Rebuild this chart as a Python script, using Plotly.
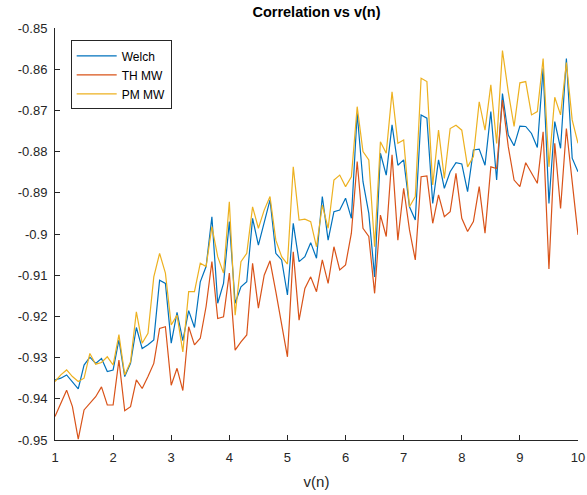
import plotly.graph_objects as go

v_n = [round(1 + 0.1 * i, 1) for i in range(91)]

welch = [-0.9354, -0.9350, -0.9342, -0.9358, -0.9376, -0.9318, -0.9299, -0.9314, -0.9302, -0.9334,
         -0.9330, -0.9257, -0.9346, -0.9314, -0.9227, -0.9278, -0.9269, -0.9257, -0.9112, -0.9120,
         -0.9265, -0.9190, -0.9259, -0.9186, -0.9227, -0.9116, -0.9079, -0.8958, -0.9168, -0.9120,
         -0.8970, -0.9168, -0.9128, -0.9116, -0.8962, -0.9027, -0.8970, -0.8917, -0.9047, -0.9063,
         -0.9148, -0.8974, -0.9067, -0.9055, -0.9021, -0.9059, -0.8909, -0.9015, -0.8946, -0.8942,
         -0.8913, -0.8962, -0.8707, -0.8873, -0.8950, -0.9104, -0.8804, -0.8857, -0.8735, -0.8833,
         -0.8820, -0.8934, -0.8966, -0.8711, -0.8719, -0.8926, -0.8820, -0.8889, -0.8849, -0.8827,
         -0.8830, -0.8897, -0.8796, -0.8794, -0.8833, -0.8703, -0.8869, -0.8659, -0.8760, -0.8786,
         -0.8738, -0.8739, -0.8756, -0.8790, -0.8598, -0.8926, -0.8727, -0.8792, -0.8574, -0.8816,
         -0.8849]

th_mw = [-0.9443, -0.9411, -0.9379, -0.9419, -0.9498, -0.9427, -0.9411, -0.9395, -0.9371, -0.9415,
         -0.9415, -0.9306, -0.9429, -0.9419, -0.9354, -0.9375, -0.9346, -0.9314, -0.9229, -0.9225,
         -0.9367, -0.9326, -0.9380, -0.9225, -0.9269, -0.9253, -0.9176, -0.9067, -0.9205, -0.9201,
         -0.9095, -0.9282, -0.9262, -0.9245, -0.9071, -0.9180, -0.9100, -0.9065, -0.9140, -0.9220,
         -0.9298, -0.9043, -0.9209, -0.9132, -0.9104, -0.9140, -0.9063, -0.9120, -0.9031, -0.9087,
         -0.9075, -0.8998, -0.8824, -0.8986, -0.9006, -0.9144, -0.8954, -0.9006, -0.8808, -0.9015,
         -0.8889, -0.8990, -0.9063, -0.8861, -0.8859, -0.8974, -0.8905, -0.8958, -0.8946, -0.8853,
         -0.8962, -0.8994, -0.8970, -0.8885, -0.8998, -0.8837, -0.8841, -0.8675, -0.8788, -0.8869,
         -0.8885, -0.8827, -0.8853, -0.8877, -0.8752, -0.9085, -0.8780, -0.8938, -0.8744, -0.8869,
         -0.9002]

pm_mw = [-0.9358, -0.9342, -0.9330, -0.9346, -0.9358, -0.9350, -0.9290, -0.9316, -0.9312, -0.9298,
         -0.9318, -0.9244, -0.9342, -0.9310, -0.9189, -0.9265, -0.9241, -0.9104, -0.9047, -0.9095,
         -0.9221, -0.9197, -0.9286, -0.9140, -0.9140, -0.9071, -0.9079, -0.8982, -0.9055, -0.9095,
         -0.8922, -0.9197, -0.9067, -0.9047, -0.8934, -0.8986, -0.8942, -0.8909, -0.9015, -0.9055,
         -0.9073, -0.8837, -0.8966, -0.8964, -0.8970, -0.9031, -0.8930, -0.8986, -0.8869, -0.8857,
         -0.8885, -0.8861, -0.8691, -0.8800, -0.8820, -0.9031, -0.8776, -0.8804, -0.8655, -0.8780,
         -0.8772, -0.8934, -0.8909, -0.8622, -0.8630, -0.8881, -0.8748, -0.8865, -0.8744, -0.8736,
         -0.8748, -0.8837, -0.8812, -0.8679, -0.8748, -0.8638, -0.8780, -0.8555, -0.8655, -0.8739,
         -0.8633, -0.8630, -0.8711, -0.8703, -0.8574, -0.8837, -0.8668, -0.8711, -0.8584, -0.8723,
         -0.8780]

y_ticks = [-0.95, -0.94, -0.93, -0.92, -0.91, -0.90, -0.89, -0.88, -0.87, -0.86, -0.85]
y_tick_text = ["-0.95", "-0.94", "-0.93", "-0.92", "-0.91", "-0.9", "-0.89", "-0.88", "-0.87", "-0.86", "-0.85"]
x_ticks = [1, 2, 3, 4, 5, 6, 7, 8, 9, 10]

font = "Liberation Sans, Arial, sans-serif"

fig = go.Figure()
fig.add_trace(go.Scatter(x=v_n, y=welch, mode="lines", name="Welch",
                         line=dict(color="#0072BD", width=1.2)))
fig.add_trace(go.Scatter(x=v_n, y=th_mw, mode="lines", name="TH MW",
                         line=dict(color="#D95319", width=1.2)))
fig.add_trace(go.Scatter(x=v_n, y=pm_mw, mode="lines", name="PM MW",
                         line=dict(color="#EDB120", width=1.2)))

fig.update_layout(
    width=587, height=495,
    margin=dict(l=55, r=9, t=28, b=55),
    paper_bgcolor="white", plot_bgcolor="white",
    font=dict(family=font, size=13, color="#262626"),
    title=dict(text="<b>Correlation vs v(n)</b>", x=0.5, xanchor="center",
               xref="paper", y=0.975, yanchor="middle",
               font=dict(family=font, size=14.5, color="black")),
    showlegend=True,
    legend=dict(x=0.03, y=0.97, xanchor="left", yanchor="top",
                bgcolor="white", bordercolor="#262626", borderwidth=1,
                font=dict(family=font, size=12, color="black"),
                tracegroupgap=0, itemwidth=40),
    xaxis=dict(range=[1, 10], tickvals=x_ticks, ticks="inside", ticklen=5,
               tickcolor="#262626", showline=True, linecolor="#262626", linewidth=1,
               showgrid=False, zeroline=False, mirror=False, automargin=False,
               ticklabelstandoff=5,
               title=dict(text="v(n)", font=dict(size=15), standoff=12)),
    yaxis=dict(range=[-0.95, -0.85], tickvals=y_ticks, ticktext=y_tick_text,
               ticks="inside", ticklen=5, tickcolor="#262626", showline=True,
               linecolor="#262626", linewidth=1, showgrid=False, zeroline=False,
               mirror=False, automargin=False, ticklabelstandoff=4),
)

fig.write_html("out.html")
